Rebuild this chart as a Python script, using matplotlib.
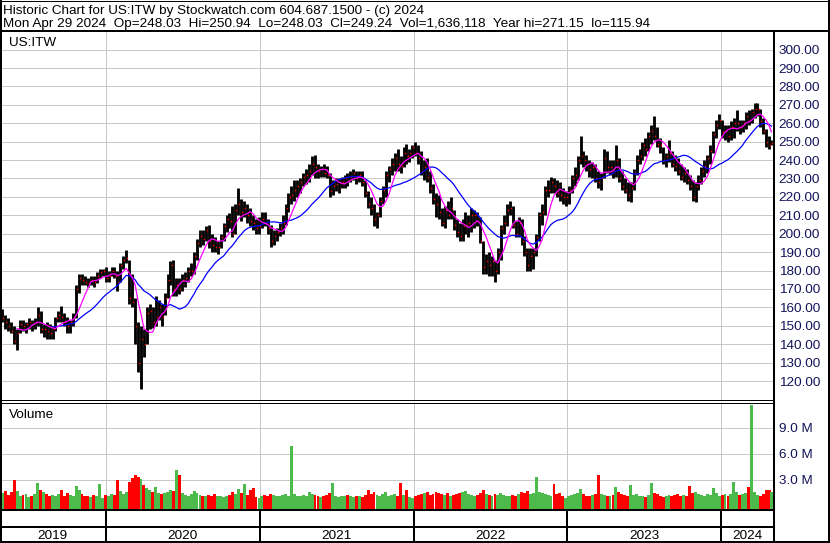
import numpy as np
import pandas as pd
import matplotlib
matplotlib.use("Agg")
import matplotlib.pyplot as plt
import matplotlib.dates as mdates
from matplotlib import transforms

plt.rcParams['font.family'] = ['Liberation Sans', 'DejaVu Sans']

# ---- weekly price data for US:ITW (week starting Mon 2019-04-29) ----
highs = [
    159, 156, 154, 152, 150, 148, 153, 153, 152, 154,
    153, 154, 160, 158, 151, 152, 151, 150, 155, 158,
    161, 157, 155, 153, 157, 172, 178, 178, 177, 176,
    177, 177, 179, 181, 181, 182, 180, 182, 182, 180,
    184, 188, 191, 186, 178, 165, 152, 150, 148, 160,
    162, 160, 166, 164, 162, 168, 178, 185, 186, 176,
    176, 178, 179, 182, 184, 190, 197, 202, 202, 204,
    205, 200, 198, 196, 200, 206, 210, 211, 215, 216,
    225, 219, 218, 216, 214, 210, 208, 209, 212, 212,
    208, 205, 202, 203, 206, 210, 216, 222, 226, 229,
    229, 230, 233, 235, 238, 242, 243, 238, 237, 238,
    237, 233, 229, 230, 230, 231, 232, 233, 234, 235,
    234, 234, 234, 229, 223, 220, 216, 212, 220, 226,
    234, 237, 241, 244, 246, 242, 247, 249, 246, 248,
    250, 248, 245, 240, 241, 234, 227, 222, 221, 214,
    215, 218, 220, 213, 208, 206, 208, 212, 210, 214,
    213, 212, 209, 196, 189, 190, 188, 186, 192, 205,
    210, 216, 218, 215, 207, 209, 208, 199, 192, 192,
    192, 200, 212, 216, 226, 229, 231, 230, 229, 228,
    225, 223, 226, 232, 236, 242, 253, 245, 243, 240,
    239, 238, 234, 233, 246, 245, 240, 240, 248, 241,
    234, 230, 228, 228, 235, 243, 246, 250, 252, 255,
    259, 264, 258, 252, 247, 244, 251, 245, 243, 241,
    238, 236, 235, 232, 229, 228, 232, 236, 240, 243,
    248, 256, 262, 265, 262, 259, 259, 261, 263, 267,
    262, 262, 266, 267, 268, 271.15, 271, 268, 263, 257,
    253, 250.94,
]

lows = [
    152, 148, 147, 146, 140, 137, 146, 147, 146, 148,
    147, 148, 150, 146, 144, 143, 143, 143, 147, 152,
    152, 150, 146, 146, 150, 154, 168, 172, 172, 171,
    172, 171, 173, 176, 177, 174, 174, 177, 176, 169,
    174, 181, 184, 162, 160, 140, 125, 115.94, 133, 140,
    148, 149, 150, 153, 150, 156, 165, 172, 166, 166,
    167, 169, 171, 174, 177, 178, 186, 193, 194, 196,
    192, 190, 190, 189, 192, 196, 201, 203, 198, 200,
    210, 207, 209, 206, 204, 202, 200, 200, 203, 204,
    200, 193, 194, 196, 199, 200, 205, 212, 216, 218,
    220, 222, 226, 227, 228, 232, 230, 230, 231, 231,
    230, 220, 221, 223, 222, 225, 225, 226, 228, 229,
    227, 228, 226, 220, 214, 210, 204, 203, 209, 216,
    220, 228, 232, 234, 234, 233, 236, 238, 239, 241,
    242, 238, 232, 229, 228, 222, 216, 209, 208, 204,
    203, 208, 208, 202, 198, 196, 196, 200, 198, 201,
    203, 204, 195, 178, 178, 177, 177, 174, 178, 186,
    200, 204, 210, 203, 198, 198, 194, 188, 180, 180,
    181, 188, 196, 205, 210, 220, 222, 222, 220, 218,
    216, 215, 216, 222, 226, 229, 238, 236, 234, 231,
    230, 228, 225, 224, 230, 233, 232, 230, 231, 228,
    224, 222, 218, 217, 224, 232, 238, 240, 242, 245,
    249, 251, 247, 244, 238, 236, 239, 236, 234, 232,
    229, 228, 227, 224, 218, 217, 224, 227, 231, 233,
    238, 244, 252, 257, 252, 251, 250, 251, 252, 256,
    254, 255, 257, 259, 260, 263, 264, 258, 254, 247,
    246, 248.03,
]

closes = [
    154, 152, 150, 147, 142, 146, 151, 150, 151, 152,
    151, 152, 156, 148, 148, 147, 146, 148, 154, 156,
    155, 152, 150, 152, 154, 170, 176, 175, 174, 173,
    175, 174, 177, 179, 180, 176, 177, 180, 177, 174,
    183, 186, 187, 165, 163, 150, 130, 143, 140, 157,
    158, 152, 155, 160, 155, 165, 175, 183, 170, 172,
    170, 175, 176, 180, 180, 188, 195, 199, 197, 202,
    196, 194, 193, 193, 198, 204, 208, 207, 200, 213,
    216, 212, 214, 210, 207, 206, 203, 204, 208, 206,
    203, 196, 199, 201, 203, 206, 214, 220, 221, 224,
    226, 228, 231, 232, 234, 238, 236, 234, 235, 233,
    232, 223, 226, 227, 228, 228, 230, 229, 231, 233,
    230, 232, 228, 222, 216, 214, 208, 210, 218, 224,
    232, 235, 238, 241, 238, 237, 244, 242, 244, 247,
    244, 241, 234, 236, 231, 225, 219, 216, 212, 206,
    213, 210, 214, 205, 201, 199, 204, 205, 206, 210,
    210, 207, 196, 182, 185, 183, 185, 180, 190, 203,
    206, 213, 214, 205, 200, 206, 196, 190, 183, 188,
    190, 198, 210, 212, 224, 224, 228, 226, 222, 221,
    220, 220, 224, 230, 232, 240, 242, 240, 238, 235,
    236, 230, 228, 230, 241, 236, 236, 234, 240, 230,
    226, 224, 221, 225, 233, 240, 242, 248, 246, 253,
    256, 253, 249, 248, 240, 242, 244, 238, 237, 234,
    231, 233, 229, 226, 220, 226, 229, 234, 237, 241,
    245, 254, 259, 262, 255, 256, 253, 258, 260, 260,
    258, 260, 264, 262, 266, 268, 268, 261, 256, 250,
    248, 249.24,
]

# representative daily volume for each week, millions of shares
volumes = [
    1.5, 1.7, 1.3, 1.6, 3.0, 1.7, 1.2, 1.3, 1.4, 1.0,
    1.2, 1.4, 2.6, 1.9, 1.6, 1.4, 1.2, 1.3, 1.1, 1.4,
    1.8, 1.2, 1.5, 1.3, 1.2, 2.3, 1.9, 1.4, 1.1, 1.2,
    1.0, 1.3, 1.2, 2.5, 0.9, 1.3, 1.2, 1.4, 1.3, 3.0,
    1.7, 1.4, 1.6, 2.8, 3.2, 3.6, 3.4, 3.1, 2.4, 2.1,
    1.8, 1.6, 2.2, 1.5, 1.4, 1.5, 1.6, 1.9, 1.7, 4.2,
    3.6, 1.5, 1.3, 1.2, 1.4, 1.7, 1.5, 1.3, 1.2, 1.1,
    1.3, 1.2, 1.4, 1.2, 1.1, 1.0, 1.2, 1.3, 1.6, 1.4,
    2.0, 1.5, 2.5, 1.3, 1.9, 2.1, 1.0, 0.9, 1.2, 1.3,
    1.1, 1.4, 1.3, 1.1, 1.2, 1.3, 1.4, 1.2, 6.9, 1.4,
    1.2, 1.1, 1.3, 1.2, 1.6, 1.4, 1.3, 1.1, 1.0, 1.2,
    1.3, 1.5, 2.6, 1.2, 1.0, 1.1, 1.2, 1.3, 1.1, 1.0,
    1.2, 1.1, 1.0, 1.3, 1.9, 1.4, 1.6, 1.3, 1.2, 1.4,
    1.6, 1.2, 1.3, 1.4, 1.2, 2.6, 1.3, 1.8, 1.0, 0.9,
    1.2, 1.3, 1.4, 1.5, 1.6, 1.3, 1.4, 1.6, 1.5, 1.4,
    1.3, 1.5, 1.2, 1.3, 1.4, 1.5, 1.6, 1.7, 1.4, 1.3,
    1.2, 1.3, 1.5, 1.9, 1.4, 1.3, 1.2, 1.4, 1.3, 1.5,
    1.3, 1.2, 1.1, 1.3, 1.2, 1.4, 1.6, 1.5, 1.7, 1.4,
    1.5, 3.3, 1.6, 1.5, 1.4, 1.3, 1.2, 2.5, 1.4, 1.5,
    1.2, 0.9, 1.1, 1.3, 1.4, 1.5, 2.0, 1.4, 1.2, 1.1,
    1.3, 1.4, 3.6, 1.4, 1.3, 1.2, 1.1, 1.3, 2.2, 1.6,
    1.4, 1.3, 1.2, 2.4, 1.3, 1.4, 1.2, 1.1, 1.0, 1.3,
    2.6, 1.5, 1.4, 1.2, 1.0, 1.1, 1.3, 1.2, 1.3, 1.4,
    1.2, 1.3, 1.2, 2.3, 1.5, 1.6, 1.4, 1.3, 1.2, 1.4,
    1.3, 2.1, 1.5, 1.1, 1.3, 1.4, 1.2, 1.4, 2.8, 1.6,
    1.3, 1.4, 1.5, 2.2, 11.7, 1.6, 1.3, 1.2, 1.4, 1.9,
    1.9, 1.64,
]

price_ticks = list(range(120, 301, 10))
volume_ticks = [3, 6, 9]
years = [2019, 2020, 2021, 2022, 2023, 2024]

symbol = "US:ITW"
last_session = "Mon Apr 29 2024"
last_open = 248.03
last_volume = 1636118

# ---------------------------------------------------------------------
W, H = 830, 543
fig = plt.figure(figsize=(W / 100, H / 100), dpi=100)
fig.patch.set_facecolor("white")

navy = "#14145a"
grid_c = "#c8c8c8"
up_c, down_c = "#4cbb4c", "#ff0000"
PX = 0.72  # one pixel in points
FS = 9.7


def fx(px):
    return px / W


def fy(py):
    return 1 - py / H


start = pd.Timestamp("2019-04-29")
last_day = pd.Timestamp("2024-04-29")
weeks = pd.date_range(start, periods=len(highs), freq="7D")
xdates = [min(d + pd.Timedelta(days=2), last_day) for d in weeks]
x = mdates.date2num(xdates)
x_left = mdates.date2num(start - pd.Timedelta(days=3.6))
x_right = mdates.date2num(start + pd.Timedelta(days=1830.8))
year_lines = [mdates.date2num(pd.Timestamp(f"{y}-01-01")) for y in years[1:]]

axp = fig.add_axes([0, fy(400), fx(773), (400 - 31) / H])
axv = fig.add_axes([0, fy(509), fx(773), (509 - 402) / H])

for ax in (axp, axv):
    ax.set_xlim(x_left, x_right)
    ax.set_facecolor("white")
    for s in ax.spines.values():
        s.set_visible(False)
    ax.set_xticks([])
    ax.yaxis.tick_right()
    ax.tick_params(axis="y", length=0, pad=4, labelsize=FS, labelcolor=navy)
    ax.grid(axis="y", color=grid_c, lw=PX)
    for xl in year_lines:
        ax.axvline(xl, color=grid_c, lw=PX, zorder=0.5)
    ax.set_axisbelow(True)

# price panel: weekly high-low bars, close marks, moving averages
axp.set_ylim(109.7, 310.1)
axp.set_yticks(price_ticks)
axp.set_yticklabels([f"{v:.2f}" for v in price_ticks])
axp.vlines(x, lows, highs, color="black", lw=2.05, zorder=2)
axp.plot(x + 2.5, closes, ls="none", marker="s", ms=1.0, mew=0,
         color="red", zorder=3)
cs = pd.Series(closes)
axp.plot(x, cs.rolling(18).mean(), color="#0000ff", lw=0.9, zorder=4)
axp.plot(x, cs.rolling(6).mean(), color="#ff00ff", lw=0.9, zorder=5)

# volume panel
vfloor = -0.35
axv.set_ylim(vfloor, 12.0)
axv.set_yticks(volume_ticks)
axv.set_yticklabels([f"{v:.1f} M" for v in volume_ticks])
vcol = [up_c] + [up_c if closes[i] >= closes[i - 1] else down_c
                 for i in range(1, len(closes))]
axv.bar(x, np.array(volumes) - vfloor, bottom=vfloor, width=6.9,
        color=vcol, linewidth=0, zorder=2)

# frame, header and year strip drawn in pixel coordinates
ov = fig.add_axes([0, 0, 1, 1], zorder=10)
ov.set_xlim(0, W)
ov.set_ylim(H, 0)
ov.axis("off")
ov.patch.set_alpha(0)


def hline(y, x0, x1, w):
    ov.plot([x0, x1], [y, y], color="black", lw=w * PX,
            solid_capstyle="butt", clip_on=False)


def vline(xp, y0, y1, w, tr=None):
    ov.plot([xp, xp], [y0, y1], color="black", lw=w * PX,
            solid_capstyle="butt", clip_on=False,
            transform=tr if tr is not None else ov.transData)


hline(0.5, 0, W, 1)
hline(541.5, 0, W, 2)
vline(1, 0, 542, 2)
vline(828.5, 0, 542, 2)
hline(30.5, 0, W, 2)
vline(774, 30, 542, 2)
hline(400, 0, 774, 1)
hline(402.5, 0, 774, 1)
hline(509.5, 0, 774, 2)
hline(526.5, 0, 774, 2)

blend = transforms.blended_transform_factory(axv.transData, ov.transData)
for xl in year_lines:
    vline(xl, 509, 542, 2, tr=blend)
edges = [x_left] + year_lines + [x_right]
for i, yr in enumerate(years):
    ov.text((edges[i] + edges[i + 1]) / 2, 539, str(yr), transform=blend,
            ha="center", va="baseline", fontsize=FS, color="black")

header1 = f"Historic Chart for {symbol} by Stockwatch.com 604.687.1500 - (c) 2024"
header2 = (f"{last_session}  Op={last_open:.2f}  Hi={highs[-1]:.2f}  "
           f"Lo={lows[-1]:.2f}  Cl={closes[-1]:.2f}  Vol={last_volume:,}  "
           f"Year hi={max(highs):.2f}  lo={min(lows):.2f}")
ov.text(3, 14, header1, fontsize=FS, va="baseline")
ov.text(3, 26.5, header2, fontsize=FS, va="baseline")
ov.text(9, 46.5, symbol, fontsize=FS, va="baseline")
ov.text(9, 418, "Volume", fontsize=FS, va="baseline")

fig.savefig("out.png", dpi=100, facecolor="white")
